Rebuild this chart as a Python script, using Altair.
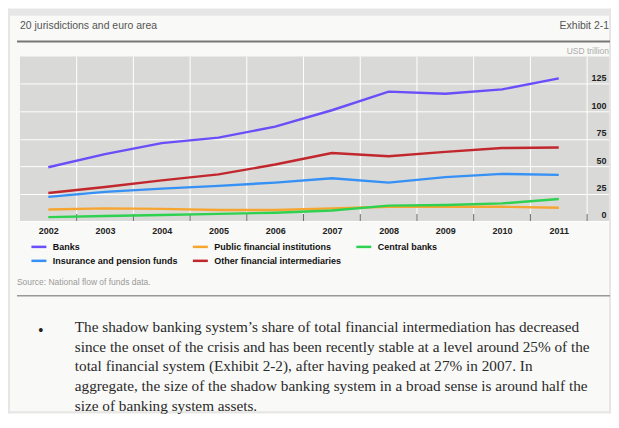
import altair as alt
import pandas as pd

years = [2002, 2003, 2004, 2005, 2006, 2007, 2008, 2009, 2010, 2011]
banks = [49, 61, 71, 76, 86, 101, 118, 116, 120, 130]
public_fin = [10.5, 11.5, 11, 10, 10, 11.5, 13, 13, 13, 12]
central_banks = [3.5, 4.5, 5.5, 6.5, 7.5, 9.5, 14, 14.5, 16, 20]
insurance = [22, 26.5, 29.5, 32, 35, 39, 35, 40, 43, 42]
other_fi = [25.5, 31, 37, 42.5, 51.5, 62, 59, 63, 66.5, 67]

# legend fills column by column: Banks/Insurance, Public/Other, Central
series_names = ["Banks", "Insurance and pension funds", "Public financial institutions",
                "Other financial intermediaries", "Central banks"]
series_values = [banks, insurance, public_fin, other_fi, central_banks]
series_colors = ["#6b4dfa", "#3591f5", "#f7a531", "#c1272d", "#2fd150"]

y_ticks = [0, 25, 50, 75, 100, 125]

header_left = "20 jurisdictions and euro area"
header_right = "Exhibit 2-1"
unit_label = "USD trillion"
source_text = "Source: National flow of funds data."
para_lines = [
    "The shadow banking system\u2019s share of total financial intermediation has decreased",
    "since the onset of the crisis and has been recently stable at a level around 25% of the",
    "total financial system (Exhibit 2-2), after having peaked at 27% in 2007. In",
    "aggregate, the size of the shadow banking system in a broad sense is around half the",
    "size of banking system assets.",
]

rows = []
for name, vals in zip(series_names, series_values):
    for yr, v in zip(years, vals):
        rows.append({"year": yr, "value": v, "series": name})
df = pd.DataFrame(rows)
bounds = pd.DataFrame({"b": [y + 0.5 for y in years]})
one = pd.DataFrame({"a": [0]})

W, H = 591, 165
xscale = alt.Scale(domain=[2001.5, 2011.886], nice=False, zero=False)
yscale = alt.Scale(domain=[0, 150], nice=False)

SANS = "Liberation Sans"
SERIF = "Liberation Serif"
FRAME = "#e6e6e6"


def rule(x, x2, y, y2, color, width):
    return alt.Chart(one).mark_rule(color=color, strokeWidth=width).encode(
        x=alt.value(x), x2=alt.value(x2), y=alt.value(y), y2=alt.value(y2))


frame = [
    rule(-12, 593, -44.5, -44.5, FRAME, 7),
    rule(-11, -11, -48, 358, FRAME, 2),
    rule(592, 592, -48, 358, FRAME, 2),
    rule(-12, 593, 357, 357, FRAME, 2),
]

vgrid = alt.Chart(bounds).mark_rule(color="white", strokeWidth=1).encode(
    x=alt.X("b:Q", scale=xscale), y=alt.value(0), y2=alt.value(H))
bticks = alt.Chart(bounds).mark_rule(color="#666", strokeWidth=1).encode(
    x=alt.X("b:Q", scale=xscale), y=alt.value(H - 7), y2=alt.value(H))

lines = alt.Chart(df).mark_line(strokeWidth=2.4).encode(
    x=alt.X("year:Q", scale=xscale,
            axis=alt.Axis(values=years, format="d", grid=False, ticks=False, domain=False,
                          labelFontSize=9, labelFontWeight="bold", labelColor="#222",
                          labelPadding=6, labelFont=SANS, title=None)),
    y=alt.Y("value:Q", scale=yscale,
            axis=alt.Axis(orient="right", values=y_ticks, grid=True, gridColor="white",
                          gridWidth=1, ticks=False, domain=False, labelAlign="right",
                          labelPadding=-3, labelBaseline="bottom", labelOffset=-1,
                          labelFontSize=9, labelFontWeight="bold", labelColor="#222",
                          labelFont=SANS, title=None)),
    color=alt.Color("series:N", scale=alt.Scale(domain=series_names, range=series_colors),
                    legend=alt.Legend(orient="none", legendX=10, legendY=182, columns=3,
                                      symbolType="stroke", symbolStrokeWidth=2.5,
                                      symbolSize=225, labelFontSize=9,
                                      labelFontWeight="bold", labelColor="#111",
                                      labelFont=SANS, columnPadding=9, rowPadding=0,
                                      labelOffset=5, title=None, padding=0)),
    order=alt.Order("year:Q"),
)


def txt(s, x, y, align="left", size=10, color="#444", font=SANS, weight="normal"):
    return alt.Chart(one).mark_text(text=s, align=align, baseline="middle", fontSize=size,
                                    color=color, font=font, fontWeight=weight).encode(
        x=alt.value(x), y=alt.value(y))


texts = [
    txt(header_left, 0, -31, size=10.5, color="#555"),
    txt(header_right, 591, -31, align="right", size=10.5, color="#555"),
    txt(unit_label, 591, -6, align="right", size=8.5, color="#aaa"),
    txt(source_text, -3, 226, size=8.5, color="#999"),
    txt("\u2022", 18, 275, size=16, color="#222", font=SERIF),
]
for i, s in enumerate(para_lines):
    texts.append(txt(s, 55, 271 + i * 20, size=15.3, color="#2a2a2a", font=SERIF))

head_rule = rule(-3, 592, -15, -15, "#777", 2)
src_rule = rule(-3, 592, 240, 240, "#999", 1.5)

chart = alt.layer(*frame, vgrid, bticks, lines, head_rule, src_rule, *texts).properties(
    width=W, height=H,
    padding={"left": 12, "top": 48, "right": 2, "bottom": 193},
    autosize=alt.AutoSizeParams(type="none"),
    background="#f9f9f7",
).configure_view(fill="#d9d9d7", stroke=None)

chart.save("out.html", embed_options={"renderer": "svg", "actions": False})
